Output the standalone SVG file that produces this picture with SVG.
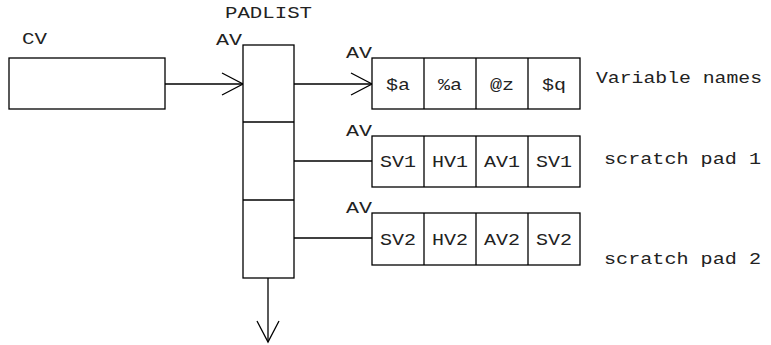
<svg xmlns="http://www.w3.org/2000/svg" width="771" height="345" viewBox="0 0 771 345">
<style>
  .box { fill: #fff; stroke: #000; stroke-width: 1.3; }
  .div { stroke: #000; stroke-width: 1.3; }
  .con { stroke: #000; stroke-width: 1.3; fill: none; }
  text { font-family: "Liberation Mono", "DejaVu Sans Mono", monospace; font-size: 16px; fill: #222; }
  .c { text-anchor: middle; }
</style>
<defs>
  <marker id="open" markerUnits="userSpaceOnUse" markerWidth="30" markerHeight="30" refX="0" refY="0" orient="auto" overflow="visible">
    <path d="M-21,-11 L0,0 L-21,11" fill="none" stroke="#000" stroke-width="1.3"/>
  </marker>
</defs>
<g id="connectors">
  <line class="con" x1="165" y1="84" x2="243" y2="84" marker-end="url(#open)"/>
  <line class="con" x1="294" y1="84" x2="372" y2="84" marker-end="url(#open)"/>
  <line class="con" x1="294" y1="161" x2="372" y2="161"/>
  <line class="con" x1="294" y1="238" x2="372" y2="238"/>
  <line class="con" x1="268" y1="278" x2="268" y2="342" marker-end="url(#open)"/>
</g>
<g id="cv">
  <text x="22" y="44" textLength="25" lengthAdjust="spacingAndGlyphs">CV</text>
  <rect class="box" x="9" y="58" width="156" height="51"/>
</g>
<g id="padlist">
  <text x="225" y="18" textLength="87" lengthAdjust="spacingAndGlyphs">PADLIST</text>
  <text x="216" y="45" textLength="26" lengthAdjust="spacingAndGlyphs">AV</text>
  <rect class="box" x="243" y="45" width="51" height="233"/>
  <line class="div" x1="243" y1="122" x2="294" y2="122"/>
  <line class="div" x1="243" y1="200" x2="294" y2="200"/>
</g>
<g id="names">
  <text x="346" y="58" textLength="26" lengthAdjust="spacingAndGlyphs">AV</text>
  <rect class="box" x="372" y="58" width="208" height="51"/>
  <line class="div" x1="424" y1="58" x2="424" y2="109"/>
  <line class="div" x1="476" y1="58" x2="476" y2="109"/>
  <line class="div" x1="528" y1="58" x2="528" y2="109"/>
  <text class="c" x="398" y="90" textLength="24" lengthAdjust="spacingAndGlyphs">$a</text>
  <text class="c" x="450" y="90" textLength="24" lengthAdjust="spacingAndGlyphs">%a</text>
  <text class="c" x="502" y="90" textLength="24" lengthAdjust="spacingAndGlyphs">@z</text>
  <text class="c" x="554" y="90" textLength="24" lengthAdjust="spacingAndGlyphs">$q</text>
  <text x="596" y="83" textLength="166" lengthAdjust="spacingAndGlyphs">Variable names</text>
</g>
<g id="pad1">
  <text x="346" y="136" textLength="26" lengthAdjust="spacingAndGlyphs">AV</text>
  <rect class="box" x="372" y="136" width="208" height="51"/>
  <line class="div" x1="424" y1="136" x2="424" y2="187"/>
  <line class="div" x1="476" y1="136" x2="476" y2="187"/>
  <line class="div" x1="528" y1="136" x2="528" y2="187"/>
  <text class="c" x="398" y="167" textLength="36" lengthAdjust="spacingAndGlyphs">SV1</text>
  <text class="c" x="450" y="167" textLength="36" lengthAdjust="spacingAndGlyphs">HV1</text>
  <text class="c" x="502" y="167" textLength="36" lengthAdjust="spacingAndGlyphs">AV1</text>
  <text class="c" x="554" y="167" textLength="36" lengthAdjust="spacingAndGlyphs">SV1</text>
  <text x="604" y="164" textLength="157" lengthAdjust="spacingAndGlyphs">scratch pad 1</text>
</g>
<g id="pad2">
  <text x="346" y="213" textLength="26" lengthAdjust="spacingAndGlyphs">AV</text>
  <rect class="box" x="372" y="213" width="208" height="52"/>
  <line class="div" x1="424" y1="213" x2="424" y2="265"/>
  <line class="div" x1="476" y1="213" x2="476" y2="265"/>
  <line class="div" x1="528" y1="213" x2="528" y2="265"/>
  <text class="c" x="398" y="245" textLength="36" lengthAdjust="spacingAndGlyphs">SV2</text>
  <text class="c" x="450" y="245" textLength="36" lengthAdjust="spacingAndGlyphs">HV2</text>
  <text class="c" x="502" y="245" textLength="36" lengthAdjust="spacingAndGlyphs">AV2</text>
  <text class="c" x="554" y="245" textLength="36" lengthAdjust="spacingAndGlyphs">SV2</text>
  <text x="604" y="264" textLength="157" lengthAdjust="spacingAndGlyphs">scratch pad 2</text>
</g>
</svg>
